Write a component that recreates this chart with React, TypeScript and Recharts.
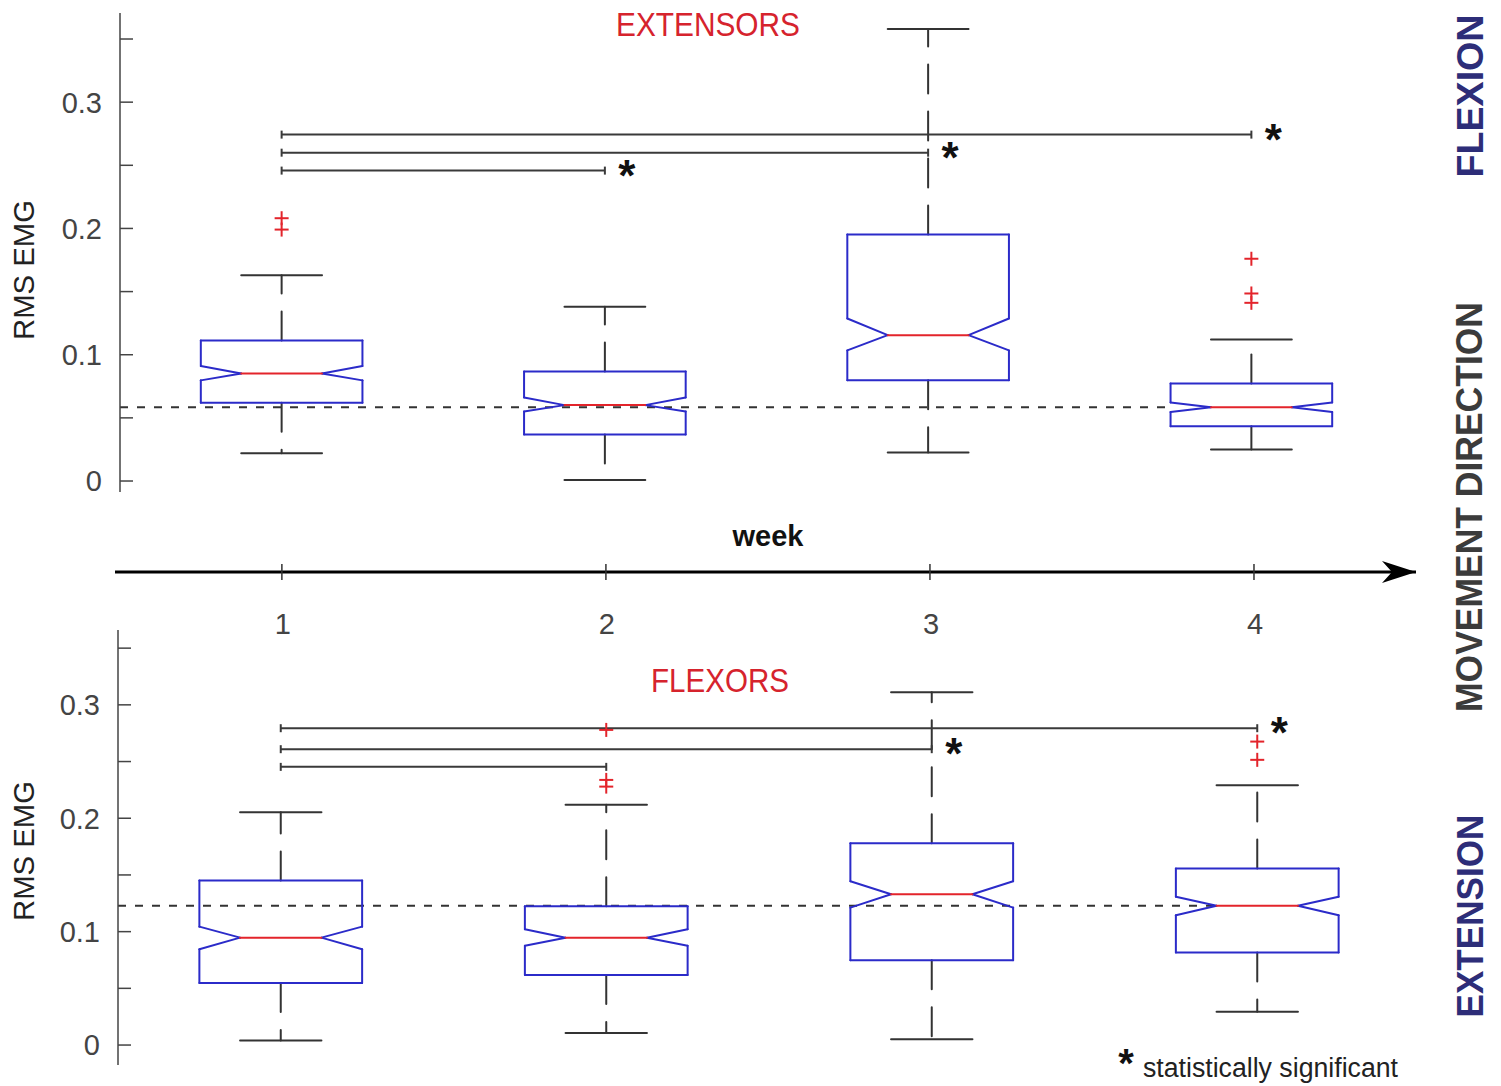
import React from "react";
import {
    ComposedChart,
    XAxis,
    YAxis,
    Scatter,
    ReferenceLine,
    ReferenceDot,
} from "recharts";

const FONT = '"Liberation Sans", Arial, Helvetica, sans-serif';

const weeks = [1, 2, 3, 4];
const valueTicks = [0, 0.05, 0.1, 0.15, 0.2, 0.25, 0.3, 0.35];

// extensors (flexion movement)
const extQ1 = [0.062, 0.0369, 0.0797, 0.0433];
const extMedian = [0.0852, 0.0601, 0.1155, 0.0585];
const extQ3 = [0.1113, 0.0868, 0.1952, 0.0773];
const extNotchLo = [0.0797, 0.0551, 0.1034, 0.0546];
const extNotchHi = [0.091, 0.0662, 0.1287, 0.0622];
const extWhiskerLo = [0.0219, 0.0008, 0.0225, 0.025];
const extWhiskerHi = [0.163, 0.138, 0.3579, 0.1121];
const extOutlierWeek = [1, 1, 4, 4, 4];
const extOutlierValue = [0.2081, 0.1991, 0.176, 0.1485, 0.1411];
const extSigFrom = [1, 1, 1];
const extSigTo = [4, 3, 2];
const extSigLevel = [0.2743, 0.26, 0.2458];
const extSigStar = [true, true, true];

// flexors (extension movement)
const flxQ1 = [0.0547, 0.0618, 0.0747, 0.0815];
const flxMedian = [0.0947, 0.0947, 0.133, 0.1229];
const flxQ3 = [0.145, 0.1224, 0.178, 0.1556];
const flxNotchLo = [0.0844, 0.0876, 0.1212, 0.1144];
const flxNotchHi = [0.1044, 0.1021, 0.1444, 0.1308];
const flxWhiskerLo = [0.0041, 0.0106, 0.005, 0.0294];
const flxWhiskerHi = [0.2053, 0.212, 0.3112, 0.2291];
const flxOutlierWeek = [2, 2, 2, 4, 4];
const flxOutlierValue = [0.2779, 0.2338, 0.2279, 0.2676, 0.2515];
const flxSigFrom = [1, 1, 1];
const flxSigTo = [4, 3, 2];
const flxSigLevel = [0.2794, 0.2609, 0.2453];
const flxSigStar = [true, true, false];

const BOX_BLUE = "#2b2bc9";
const MEDIAN_RED = "#e3242b";
const INK = "#333";

const renderValueTick = (props: any) => {
    const { x, y, payload } = props;
    const v = payload.value;
    const labelled = Math.abs(v * 10 - Math.round(v * 10)) < 1e-6;
    return (
        <g>
            <line x1={x} x2={x + 13} y1={y} y2={y} stroke="#444" strokeWidth={1.5} />
            {labelled && (
                <text
                    x={x - 18}
                    y={y}
                    dy="0.36em"
                    textAnchor="end"
                    fontSize={29}
                    fill="#444"
                    fontFamily={FONT}
                >
                    {String(Math.round(v * 10) / 10)}
                </text>
            )}
        </g>
    );
};

const renderWeekTick = (props: any) => {
    const { x, y, payload } = props;
    return (
        <g>
            <line x1={x} x2={x} y1={y - 8} y2={y + 8} stroke={INK} strokeWidth={1.5} />
            <text x={x + 1} y={y + 62} textAnchor="middle" fontSize={29} fill="#444" fontFamily={FONT}>
                {payload.value}
            </text>
        </g>
    );
};

function PlusMark({ cx, cy }: any) {
    return (
        <g stroke={MEDIAN_RED} strokeWidth={2}>
            <line x1={cx - 7} x2={cx + 7} y1={cy} y2={cy} />
            <line x1={cx} x2={cx} y1={cy - 7} y2={cy + 7} />
        </g>
    );
}

function Bracket({ x1, y1, x2, y2, star }: any) {
    return (
        <g>
            <line x1={x1} y1={y1} x2={x2} y2={y2} stroke="#3a3a3a" strokeWidth={2} />
            <line x1={x1} y1={y1 - 4} x2={x1} y2={y1 + 4} stroke="#3a3a3a" strokeWidth={2} />
            <line x1={x2} y1={y2 - 4} x2={x2} y2={y2 + 4} stroke="#3a3a3a" strokeWidth={2} />
            {star && (
                <text
                    x={x2 + 22}
                    y={y2 + 20}
                    textAnchor="middle"
                    fontSize={44}
                    fontWeight="bold"
                    fill="#111"
                    fontFamily={FONT}
                >
                    *
                </text>
            )}
        </g>
    );
}

function ArrowHead({ cx, cy }: any) {
    return (
        <polygon
            points={`${cx},${cy} ${cx - 34},${cy - 11} ${cx - 24},${cy} ${cx - 34},${cy + 11}`}
            fill="#000"
        />
    );
}

const seg = (
    key: string,
    x1: number,
    y1: number,
    x2: number,
    y2: number,
    stroke: string,
    dash?: string
) => (
    <ReferenceLine
        key={key}
        segment={[
            { x: x1, y: y1 },
            { x: x2, y: y2 },
        ]}
        stroke={stroke}
        strokeWidth={2}
        strokeDasharray={dash}
        strokeLinecap="round"
        ifOverflow="visible"
    />
);

// notched box, whiskers and caps for one week
function boxLines(p: any, i: number) {
    const w = weeks[i];
    const hw = 0.25;
    const nw = 0.125;
    const q1 = p.q1[i];
    const q3 = p.q3[i];
    const med = p.median[i];
    const lo = p.notchLo[i];
    const hi = p.notchHi[i];
    const k = `b${i}`;
    return [
        seg(k + "wu", w, q3, w, p.whiskerHi[i], INK, "29 18"),
        seg(k + "wl", w, q1, w, p.whiskerLo[i], INK, "29 18"),
        seg(k + "cu", w - nw, p.whiskerHi[i], w + nw, p.whiskerHi[i], INK),
        seg(k + "cl", w - nw, p.whiskerLo[i], w + nw, p.whiskerLo[i], INK),
        seg(k + "t", w - hw, q3, w + hw, q3, BOX_BLUE),
        seg(k + "b", w - hw, q1, w + hw, q1, BOX_BLUE),
        seg(k + "l1", w - hw, q3, w - hw, hi, BOX_BLUE),
        seg(k + "l2", w - hw, hi, w - nw, med, BOX_BLUE),
        seg(k + "l3", w - nw, med, w - hw, lo, BOX_BLUE),
        seg(k + "l4", w - hw, lo, w - hw, q1, BOX_BLUE),
        seg(k + "r1", w + hw, q3, w + hw, hi, BOX_BLUE),
        seg(k + "r2", w + hw, hi, w + nw, med, BOX_BLUE),
        seg(k + "r3", w + nw, med, w + hw, lo, BOX_BLUE),
        seg(k + "r4", w + hw, lo, w + hw, q1, BOX_BLUE),
        seg(k + "m", w - nw, med, w + nw, med, MEDIAN_RED),
    ];
}

function BoxPanel({ p, height, margin, domain, baselineEnd }: any) {
    const outliers = p.outlierWeek.map((w: number, i: number) => ({
        x: w,
        y: p.outlierValue[i],
    }));
    const baseline = p.median[3];
    return (
        <ComposedChart width={1501} height={height} margin={margin}>
            <XAxis type="number" dataKey="x" domain={[0.5, 4.5]} allowDataOverflow hide />
            <YAxis
                type="number"
                dataKey="y"
                domain={domain}
                allowDataOverflow
                ticks={valueTicks}
                interval={0}
                width={60}
                tickLine={false}
                tickSize={0}
                tickMargin={0}
                axisLine={{ stroke: "#444", strokeWidth: 1.5 }}
                tick={renderValueTick}
            />
            <ReferenceLine
                segment={[
                    { x: 0.5, y: baseline },
                    { x: baselineEnd, y: baseline },
                ]}
                stroke={INK}
                strokeWidth={2}
                strokeDasharray="8 9"
                ifOverflow="visible"
            />
            {weeks.map((_, i) => boxLines(p, i))}
            {p.sigFrom.map((from: number, i: number) => (
                <ReferenceLine
                    key={`sig${i}`}
                    segment={[
                        { x: from, y: p.sigLevel[i] },
                        { x: p.sigTo[i], y: p.sigLevel[i] },
                    ]}
                    ifOverflow="visible"
                    shape={(sp: any) => <Bracket {...sp} star={p.sigStar[i]} />}
                />
            ))}
            <Scatter
                data={outliers}
                dataKey="y"
                isAnimationActive={false}
                shape={(sp: any) => <PlusMark cx={sp.cx} cy={sp.cy} />}
            />
        </ComposedChart>
    );
}

const extensors = {
    q1: extQ1,
    median: extMedian,
    q3: extQ3,
    notchLo: extNotchLo,
    notchHi: extNotchHi,
    whiskerLo: extWhiskerLo,
    whiskerHi: extWhiskerHi,
    outlierWeek: extOutlierWeek,
    outlierValue: extOutlierValue,
    sigFrom: extSigFrom,
    sigTo: extSigTo,
    sigLevel: extSigLevel,
    sigStar: extSigStar,
};

const flexors = {
    q1: flxQ1,
    median: flxMedian,
    q3: flxQ3,
    notchLo: flxNotchLo,
    notchHi: flxNotchHi,
    whiskerLo: flxWhiskerLo,
    whiskerHi: flxWhiskerHi,
    outlierWeek: flxOutlierWeek,
    outlierValue: flxOutlierValue,
    sigFrom: flxSigFrom,
    sigTo: flxSigTo,
    sigLevel: flxSigLevel,
    sigStar: flxSigStar,
};

export default function App() {
    const weekPoints = weeks.map((w) => ({ x: w, y: 0 }));
    return (
        <div
            style={{
                position: "absolute",
                left: 0,
                top: 0,
                width: 1501,
                height: 1086,
                background: "#fff",
                fontFamily: FONT,
            }}
        >
            <div style={{ position: "absolute", left: 0, top: 0 }}>
                <BoxPanel
                    p={extensors}
                    height={500}
                    margin={{ top: 13, right: 88, bottom: 8, left: 60 }}
                    domain={[-0.0087, 0.3706]}
                    baselineEnd={3.75}
                />
            </div>

            <div style={{ position: "absolute", left: 0, top: 500 }}>
                <ComposedChart width={1501} height={150} margin={{ top: 0, right: 85, bottom: 0, left: 115 }}>
                    <XAxis
                        type="number"
                        dataKey="x"
                        domain={[0.485, 4.5]}
                        allowDataOverflow
                        ticks={weeks}
                        interval={0}
                        height={78}
                        tickLine={false}
                        tickSize={0}
                        tickMargin={0}
                        axisLine={{ stroke: "#000", strokeWidth: 3 }}
                        tick={renderWeekTick}
                    />
                    <YAxis type="number" dataKey="y" domain={[0, 1]} hide />
                    <Scatter data={weekPoints} dataKey="y" isAnimationActive={false} shape={() => <g />} />
                    <ReferenceDot
                        x={4.5}
                        y={0}
                        ifOverflow="visible"
                        shape={(sp: any) => <ArrowHead cx={sp.cx} cy={sp.cy} />}
                    />
                </ComposedChart>
            </div>

            <div style={{ position: "absolute", left: 0, top: 620 }}>
                <BoxPanel
                    p={flexors}
                    height={460}
                    margin={{ top: 10, right: 81, bottom: 15, left: 58 }}
                    domain={[-0.0176, 0.366]}
                    baselineEnd={3.875}
                />
            </div>

            <svg
                width={1501}
                height={1086}
                style={{ position: "absolute", left: 0, top: 0, pointerEvents: "none" }}
                fontFamily={FONT}
            >
                <text x={708} y={36} textAnchor="middle" fontSize={33} fill="#d6232d" textLength={184} lengthAdjust="spacingAndGlyphs">
                    EXTENSORS
                </text>
                <text x={720} y={692} textAnchor="middle" fontSize={33} fill="#d6232d" textLength={138} lengthAdjust="spacingAndGlyphs">
                    FLEXORS
                </text>
                <text x={34} y={270} transform="rotate(-90 34 270)" textAnchor="middle" fontSize={30} fill="#222" textLength={140} lengthAdjust="spacingAndGlyphs">
                    RMS EMG
                </text>
                <text x={34} y={851} transform="rotate(-90 34 851)" textAnchor="middle" fontSize={30} fill="#222" textLength={140} lengthAdjust="spacingAndGlyphs">
                    RMS EMG
                </text>
                <text x={768} y={546} textAnchor="middle" fontSize={29} fontWeight="bold" fill="#111">
                    week
                </text>
                <text x={1483} y={96} transform="rotate(-90 1483 96)" textAnchor="middle" fontSize={37} fontWeight="bold" fill="#2d2d78" textLength={163} lengthAdjust="spacingAndGlyphs">
                    FLEXION
                </text>
                <text x={1482} y={507} transform="rotate(-90 1482 507)" textAnchor="middle" fontSize={36} fontWeight="bold" fill="#3b3b3b" textLength={410} lengthAdjust="spacingAndGlyphs">
                    MOVEMENT DIRECTION
                </text>
                <text x={1483} y={916} transform="rotate(-90 1483 916)" textAnchor="middle" fontSize={36} fontWeight="bold" fill="#2d2d78" textLength={203} lengthAdjust="spacingAndGlyphs">
                    EXTENSION
                </text>
                <text x={1126} y={1077} textAnchor="middle" fontSize={40} fontWeight="bold" fill="#111">
                    *
                </text>
                <text x={1143} y={1077} fontSize={27} fill="#222" textLength={255} lengthAdjust="spacingAndGlyphs">
                    statistically significant
                </text>
            </svg>
        </div>
    );
}
